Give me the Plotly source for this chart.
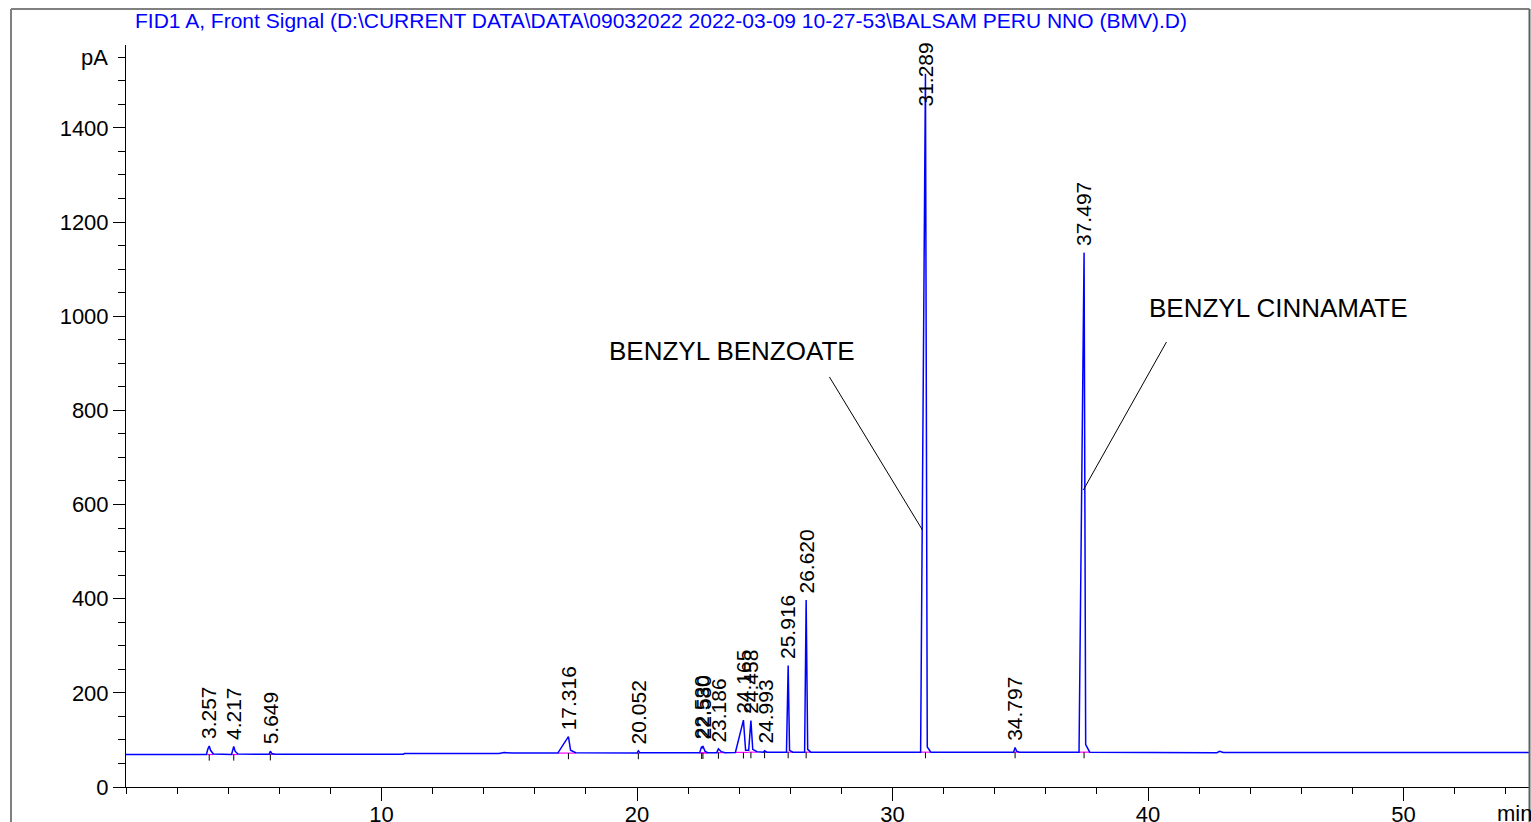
import plotly.graph_objects as go

# ---- data ----
trace_time = [0.0, 3.15, 3.2, 3.257, 3.31, 3.42, 4.13, 4.17, 4.217, 4.27, 4.38,
              5.6, 5.649, 5.71, 5.82, 10.85, 10.9, 14.6, 14.8, 15.1,
              16.9, 17.316, 17.4, 17.6, 20.0, 20.052, 20.12,
              22.45, 22.53, 22.555, 22.58, 22.66, 22.76, 23.12, 23.186, 23.3, 23.45,
              23.85, 24.165, 24.25, 24.37, 24.458, 24.53, 24.7, 24.95, 24.993, 25.08,
              25.85, 25.916, 25.97, 26.1, 26.56, 26.62, 26.68, 26.8,
              31.10, 31.289, 31.36, 31.5, 34.74, 34.797, 34.86, 34.96,
              37.3, 37.497, 37.56, 37.72, 42.7, 42.8, 42.95, 55.0]
trace_signal = [69.0, 69.0, 80.0, 87.0, 78.0, 70.0, 69.0, 79.0, 86.0, 76.0, 70.0,
                69.5, 76.0, 71.0, 69.5, 69.5, 71.0, 71.0, 73.5, 72.0,
                72.0, 107.0, 78.0, 73.0, 72.0, 77.0, 72.5,
                72.5, 86.0, 82.0, 87.0, 76.0, 73.0, 73.0, 81.0, 75.0, 73.0,
                73.5, 142.0, 78.0, 78.0, 141.0, 80.0, 75.0, 74.0, 77.0, 74.0,
                74.0, 258.0, 78.0, 74.0, 74.0, 397.0, 80.0, 74.0,
                74.0, 1515.0, 85.0, 74.0, 74.0, 84.0, 76.0, 74.0,
                74.0, 1135.0, 90.0, 74.0, 73.0, 76.0, 73.5, 73.5]

peak_rt = [3.257, 4.217, 5.649, 17.316, 20.052, 22.530, 22.580, 23.186,
           24.165, 24.458, 24.993, 25.916, 26.620, 31.289, 34.797, 37.497]
peak_apex = [87, 86, 76, 107, 77, 86, 87, 81, 142, 141, 77, 258, 397, 1515, 84, 1135]
peak_base = [69, 69, 69.5, 72, 72, 72.5, 72.5, 73, 73.5, 74, 74, 74, 74, 74, 74, 74]
peak_start = [3.18, 4.15, 5.6, 16.9, 20.0, 22.45, 22.45, 23.12, 23.85, 24.37, 24.95,
              25.85, 26.56, 31.10, 34.74, 37.30]
peak_end = [3.42, 4.38, 5.82, 17.6, 20.12, 22.76, 22.76, 23.45, 24.37, 24.7, 25.08,
            26.1, 26.8, 31.5, 34.96, 37.72]

y_ticks = [0, 200, 400, 600, 800, 1000, 1200, 1400]
x_ticks = [10, 20, 30, 40, 50]
title_text = "FID1 A, Front Signal (D:\\CURRENT DATA\\DATA\\09032022 2022-03-09 10-27-53\\BALSAM PERU NNO (BMV).D)"

FONT = "Liberation Sans, Arial, sans-serif"
X_MAX = 54.95
Y_MAX = 1576

W, H = 1531, 822
PL, PR, PT, PB = 126, 1530, 45, 787      # plot area in page pixels
PW, PH = PR - PL, PB - PT


def px_x(p):
    return (p - PL) / PW


def px_y(p):
    return (PB - p) / PH


fig = go.Figure()

# integration baselines (magenta)
bx, by = [], []
for s, e, b in zip(peak_start, peak_end, peak_base):
    bx += [s, e, None]
    by += [b, b, None]
fig.add_trace(go.Scatter(x=bx, y=by, mode="lines", line=dict(color="#ff00ff", width=1.2),
                         hoverinfo="skip", showlegend=False))

# signal
fig.add_trace(go.Scatter(x=trace_time, y=trace_signal, mode="lines",
                         line=dict(color="#0000ff", width=1.5), showlegend=False))

# retention-time ticks below the peaks
tx, ty = [], []
for rt, b in zip(peak_rt, peak_base):
    tx += [rt, rt, None]
    ty += [b, b - 13, None]
fig.add_trace(go.Scatter(x=tx, y=ty, mode="lines", line=dict(color="black", width=1),
                         hoverinfo="skip", showlegend=False))

annotations = []
for rt, ap in zip(peak_rt, peak_apex):
    ly = min(ap + 10, 1442)
    annotations.append(dict(x=rt, y=ly, xref="x", yref="y", text=f"{rt:.3f}",
                            textangle=-90, showarrow=False, xanchor="center", yanchor="bottom",
                            font=dict(family=FONT, size=21, color="black")))

annotations.append(dict(x=px_x(133), y=px_y(20), xref="paper", yref="paper",
                        text=title_text, showarrow=False, xanchor="left", yanchor="middle",
                        font=dict(family=FONT, size=21, color="#0000ff")))
annotations.append(dict(x=23.7, y=926, xref="x", yref="y", text="BENZYL BENZOATE",
                        showarrow=False, xanchor="center", yanchor="middle",
                        font=dict(family=FONT, size=26, color="black")))
annotations.append(dict(x=45.1, y=1018, xref="x", yref="y", text="BENZYL CINNAMATE",
                        showarrow=False, xanchor="center", yanchor="middle",
                        font=dict(family=FONT, size=26, color="black")))
annotations.append(dict(x=px_x(110), y=1550, xref="paper", yref="y", text="pA", showarrow=False,
                        xanchor="right", yanchor="middle",
                        font=dict(family=FONT, size=22, color="black")))
annotations.append(dict(x=px_x(1514), y=px_y(799), xref="paper", yref="paper", text="min",
                        showarrow=False, xanchor="center", yanchor="top",
                        font=dict(family=FONT, size=22, color="black")))

frame_x = px_x(11)
frame_top = px_y(9)
shapes = [
    dict(type="line", xref="x", yref="y", x0=27.53, y0=871, x1=31.17, y1=546,
         line=dict(color="black", width=1)),
    dict(type="line", xref="x", yref="y", x0=40.72, y0=945, x1=37.47, y1=631,
         line=dict(color="black", width=1)),
    # outer frame
    dict(type="line", xref="paper", yref="paper", x0=frame_x, x1=frame_x,
         y0=-0.1, y1=frame_top, line=dict(color="#808080", width=2)),
    dict(type="line", xref="paper", yref="paper", x0=frame_x, x1=px_x(1529.5),
         y0=frame_top, y1=frame_top, line=dict(color="#808080", width=2)),
    dict(type="line", xref="paper", yref="paper", x0=px_x(1529.5), x1=px_x(1529.5),
         y0=-0.1, y1=frame_top, line=dict(color="#606060", width=2)),
]

fig.update_layout(
    width=W, height=H,
    margin=dict(l=PL, r=W - PR, t=PT, b=H - PB, pad=0),
    paper_bgcolor="white", plot_bgcolor="white",
    annotations=annotations, shapes=shapes,
    xaxis=dict(range=[0, X_MAX], tickvals=x_ticks, ticks="outside", ticklen=13,
               tickcolor="black", showline=True, linecolor="black", linewidth=1,
               showgrid=False, zeroline=False, automargin=False, ticklabelstandoff=-5,
               tickfont=dict(family=FONT, size=22, color="black"),
               minor=dict(dtick=2, tick0=0, ticks="outside", ticklen=6, tickcolor="black")),
    yaxis=dict(range=[0, Y_MAX], tickvals=y_ticks, ticks="outside", ticklen=12,
               tickcolor="black", showline=True, linecolor="black", linewidth=1,
               showgrid=False, zeroline=False, automargin=False,
               tickfont=dict(family=FONT, size=22, color="black"),
               minor=dict(dtick=50, tick0=0, ticks="outside", ticklen=7, tickcolor="black")),
    showlegend=False,
)

fig.write_html("out.html", config={"displayModeBar": False},
               post_script="document.body.style.margin='0';document.body.style.overflow='hidden';")
